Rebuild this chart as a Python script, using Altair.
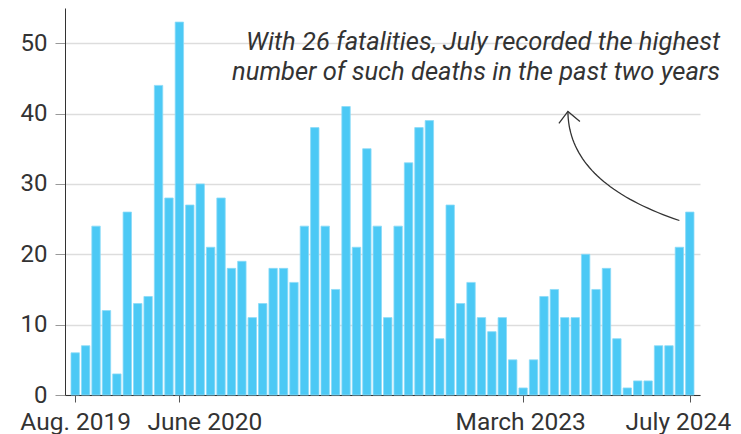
import altair as alt
import pandas as pd
import numpy as np

# Monthly fatalities, Aug. 2019 - July 2024
values = [6, 7, 24, 12, 3, 26, 13, 14, 44, 28,
          53, 27, 30, 21, 28, 18, 19, 11, 13, 18,
          18, 16, 24, 38, 24, 15, 41, 21, 35, 24,
          11, 24, 33, 38, 39, 8, 27, 13, 16, 11,
          9, 11, 5, 1, 5, 14, 15, 11, 11, 20,
          15, 18, 8, 1, 2, 2, 7, 7, 21, 26]
month_index = list(range(len(values)))

tick_index = [0, 10, 43, 59]
tick_labels = ["Aug. 2019", "June 2020", "March 2023", "July 2024"]
label_shift = [0, 25, -3, -12]

y_ticks = [0, 10, 20, 30, 40, 50]

note_lines = ["With 26 fatalities, July recorded the highest",
              "number of such deaths in the past two years"]
note_x = [61.9, 61.9]
note_y = [49.0, 44.8]

# arrow (data units): start, control, tip
arrow_x = [58.0, 47.35, 47.3]
arrow_y = [24.8, 30.1, 40.3]

FONT = "Roboto"
TXT = "#333333"

bars_df = pd.DataFrame({"i": month_index, "v": values})

t = np.linspace(0, 1, 40)
ax = (1 - t) ** 2 * arrow_x[0] + 2 * (1 - t) * t * arrow_x[1] + t ** 2 * arrow_x[2]
ay = (1 - t) ** 2 * arrow_y[0] + 2 * (1 - t) * t * arrow_y[1] + t ** 2 * arrow_y[2]
arrow_df = pd.DataFrame({"i": ax, "v": ay, "o": range(len(t))})
tip_df = pd.DataFrame({"i": [arrow_x[2]], "v": [arrow_y[2]]})
note_df = pd.DataFrame({"text": note_lines, "i": note_x, "v": note_y})

label_expr = " : ".join(
    f"datum.value == {k} ? '{lab}'" for k, lab in zip(tick_index, tick_labels)
) + " : ''"
offset_cond = {
    "condition": [{"test": f"datum.value == {k}", "value": s}
                  for k, s in zip(tick_index, label_shift)],
    "value": 0,
}

x_scale = alt.Scale(domain=[-0.5, len(values) - 0.5], nice=False, zero=False)
y_scale = alt.Scale(domain=[0, 55], nice=False)

x_axis = alt.Axis(
    values=tick_index, labelExpr=label_expr, title=None, grid=False,
    tickSize=7, tickColor="#555555", domainColor="#333333", domainWidth=1,
    labelFont=FONT, labelFontSize=24.5, labelColor=TXT, labelPadding=8,
    labelOverlap=False, labelFlush=False, labelBound=False,
    labelOffset=offset_cond,
)
y_axis = alt.Axis(
    values=y_ticks, title=None, grid=True, gridColor="#dddddd", gridWidth=1.5,
    tickSize=10, tickColor="#999999", domainColor="#333333", domainWidth=1,
    labelFont=FONT, labelFontSize=24, labelColor=TXT, labelPadding=8,
)

bars = alt.Chart(bars_df).mark_bar(
    size=8.4, color="#4cc9f5", stroke="#8bdaf8", strokeWidth=0.8
).encode(
    x=alt.X("i:Q", scale=x_scale, axis=x_axis),
    y=alt.Y("v:Q", scale=y_scale, axis=y_axis),
)

arrow = alt.Chart(arrow_df).mark_line(color="#333333", strokeWidth=1.3).encode(
    x="i:Q", y="v:Q", order="o:Q"
)

tip = alt.Chart(tip_df).mark_point(
    shape="M-0.75,1L0,0L1,0.83", size=576, filled=False,
    stroke="#333333", strokeWidth=1.3, opacity=1
).encode(x="i:Q", y="v:Q")

note = alt.Chart(note_df).mark_text(
    align="right", baseline="alphabetic", font=FONT, fontSize=25.5,
    fontStyle="italic", color=TXT
).encode(x="i:Q", y="v:Q", text="text:N")

chart = alt.layer(bars, arrow, tip, note).properties(
    width=635, height=387,
    autosize=alt.AutoSizeParams(type="none"),
    padding={"left": 57, "top": 0, "right": 33, "bottom": 40},
).configure_view(stroke=None)

chart.save("out.html", embed_options={"renderer": "svg", "actions": False})
